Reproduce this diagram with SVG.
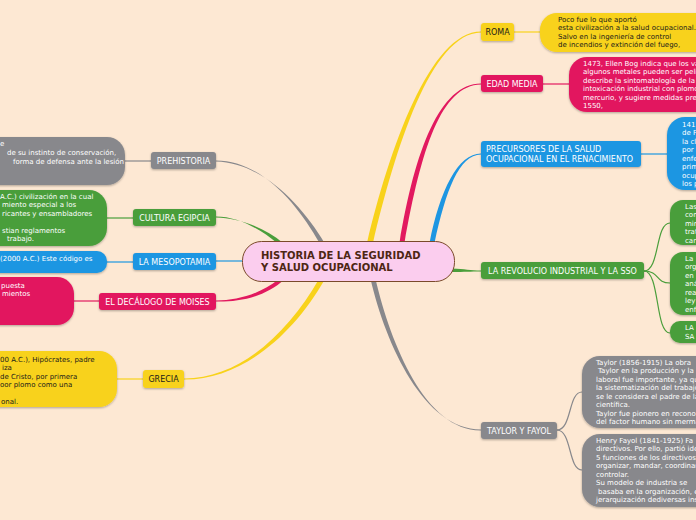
<svg xmlns="http://www.w3.org/2000/svg" width="696" height="520" viewBox="0 0 696 520">
<defs>
<filter id="sh" x="-10%" y="-20%" width="120%" height="160%">
<feDropShadow dx="0" dy="1" stdDeviation="0.8" flood-color="#000" flood-opacity="0.3"/>
</filter>
<style>
.n{font-family:"DejaVu Sans",Verdana,sans-serif;font-size:8px;text-anchor:middle}
.d{font-family:"DejaVu Sans",Verdana,sans-serif;font-size:7px}
.w{fill:#ffffff}
.k{fill:#1a1a1a}
.gy{fill:#88888c}
.gn{fill:#4a9e3b}
.bl{fill:#1d96e2}
.rd{fill:#e2195f}
.yl{fill:#f8d21b}
.sgy{stroke:#88888c}
.sgn{stroke:#4a9e3b}
.sbl{stroke:#1d96e2}
.srd{stroke:#e2195f}
.syl{stroke:#f8d21b}
.ln{fill:none;stroke-width:1.2}
</style>
</defs>
<rect width="696" height="520" fill="#fde8d3"/>

<g id="connectors">
<path class="gy" d="M319.5,243 C298,205 262,160.5 216,160.5 L216,161.5 C262,162.5 302,205 324.5,243 Z"/>
<path class="gn" d="M277,243 C260,229 238,216.5 216,216.5 L216,217.5 C238,218 264,227 283,243 Z"/>
<path class="ln sbl" stroke-width="1.5" d="M244,261 L216,261"/>
<path class="rd" d="M279,279 C260,294 238,300.5 216,300.5 L216,301.5 C238,302 264,298 285,279 Z"/>
<path class="yl" d="M319,279 C288,333 240,378.5 184,378.5 L184,379.5 C240,380 292,337 325,279 Z"/>
<path class="yl" d="M367,243 C389,150 430,31.5 481,31.5 L481,32.5 C431,33 395,150 373,243 Z"/>
<path class="rd" d="M399.5,243 C415,150 440,83.5 481,83.5 L481,84.5 C441,85 421,150 404.5,243 Z"/>
<path class="bl" d="M429.5,243 C440,190 458,153.5 481,153.5 L481,154.5 C459,155 446,190 434.5,243 Z"/>
<path class="gn" d="M452,268.5 C465,269 470,270.5 481,270.5 L481,271.5 C470,271.5 465,272 452,272 Z"/>
<path class="gy" d="M370.5,279 C386,345 424,429.5 481,429.5 L481,430.5 C426,431 391,345 375.5,279 Z"/>

<path class="ln sgy" d="M125,161 L151,161"/>
<path class="ln sgn" d="M107,218 L133,218"/>
<path class="ln sbl" d="M107,262 L133,262"/>
<path class="ln srd" d="M74,301 L99,301"/>
<path class="ln syl" d="M117,379 L143,379"/>
<path class="ln syl" d="M514,32 L540,32"/>
<path class="ln srd" d="M543,84 L569,84"/>
<path class="ln sbl" d="M641,154 L667,154"/>
<path class="ln sgn" d="M644,271 C660,271 655,223 670,223"/>
<path class="ln sgn" d="M644,271 C660,271 655,283 670,283"/>
<path class="ln sgn" d="M644,271 C660,271 655,333 670,333"/>
<path class="ln sgy" d="M557,430 C572,430 568,392 582,392"/>
<path class="ln sgy" d="M557,430 C572,430 568,470 582,470"/>
</g>

<g id="center">
<rect x="242.5" y="241.5" width="212" height="40" rx="19" fill="#fbcdee" stroke="#7a4a2a" stroke-width="1"/>
<text x="261" y="259" font-family="DejaVu Sans,Verdana,sans-serif" font-size="10" font-weight="bold" fill="#4d2613">HISTORIA DE LA SEGURIDAD</text>
<text x="261" y="271" font-family="DejaVu Sans,Verdana,sans-serif" font-size="10" font-weight="bold" fill="#4d2613">Y SALUD OCUPACIONAL</text>
</g>

<g id="prehistoria">
<rect class="gy" x="151" y="152" width="65" height="17" rx="3" filter="url(#sh)"/>
<text class="n w" x="183.5" y="163.8">PREHISTORIA</text>
</g>
<g id="prehistoria-detail">
<rect class="gy" x="-40" y="137" width="165" height="48" rx="18" filter="url(#sh)"/>
<text class="d w" x="0" y="145.5">e</text>
<text class="d w" x="7" y="155">de su instinto de conservación,</text>
<text class="d w" x="13" y="163.5">forma de defensa ante la lesión</text>
</g>

<g id="egipcia">
<rect class="gn" x="133" y="209" width="83" height="17" rx="3" filter="url(#sh)"/>
<text class="n w" x="174.5" y="220.8">CULTURA EGIPCIA</text>
</g>
<g id="egipcia-detail">
<rect class="gn" x="-40" y="190" width="147" height="56" rx="18" filter="url(#sh)"/>
<text class="d w" x="0" y="198.5">A.C.) civilización en la cual</text>
<text class="d w" x="2" y="207">miento especial a los</text>
<text class="d w" x="2" y="215.5">ricantes y ensambladores</text>
<text class="d w" x="2" y="232.5">stian reglamentos</text>
<text class="d w" x="7" y="241">trabajo.</text>
</g>

<g id="mesopotamia">
<rect class="bl" x="133" y="253" width="83" height="17" rx="3" filter="url(#sh)"/>
<text class="n w" x="174.5" y="264.8">LA MESOPOTAMIA</text>
</g>
<g id="mesopotamia-detail">
<rect class="bl" x="-40" y="251" width="147" height="22" rx="10" filter="url(#sh)"/>
<text class="d w" x="0" y="260.5">(2000 A.C.) Este código es</text>
</g>

<g id="decalogo">
<rect class="rd" x="99" y="293" width="117" height="17" rx="3" filter="url(#sh)"/>
<text class="n w" x="157.5" y="304.8">EL DECÁLOGO DE MOISES</text>
</g>
<g id="decalogo-detail">
<rect class="rd" x="-40" y="277" width="114" height="48" rx="17" filter="url(#sh)"/>
<text class="d w" x="1" y="287.5">puesta</text>
<text class="d w" x="2" y="296">mientos</text>
</g>

<g id="grecia">
<rect class="yl" x="143" y="370" width="41" height="18" rx="3" filter="url(#sh)"/>
<text class="n k" x="163.5" y="382.3">GRECIA</text>
</g>
<g id="grecia-detail">
<rect class="yl" x="-40" y="351" width="157" height="56" rx="18" filter="url(#sh)"/>
<text class="d k" x="0" y="361.5">00 A.C.), Hipócrates, padre</text>
<text class="d k" x="2" y="370">iza</text>
<text class="d k" x="0" y="378.5">de Cristo, por primera</text>
<text class="d k" x="0" y="387">oor plomo como una</text>
<text class="d k" x="1" y="404">onal.</text>
</g>

<g id="roma">
<rect class="yl" x="481" y="23" width="33" height="18" rx="3" filter="url(#sh)"/>
<text class="n k" x="497.5" y="35.3">ROMA</text>
</g>
<g id="roma-detail">
<rect class="yl" x="540" y="13" width="200" height="39" rx="17" filter="url(#sh)"/>
<text class="d k" x="558" y="21.5">Poco fue lo que aportó</text>
<text class="d k" x="558" y="30">esta civilización a la salud ocupacional.</text>
<text class="d k" x="558" y="38.5">Salvo en la ingeniería de control</text>
<text class="d k" x="558" y="47">de incendios y extinción del fuego,</text>
</g>

<g id="edad-media">
<rect class="rd" x="481" y="75" width="62" height="17" rx="3" filter="url(#sh)"/>
<text class="n w" x="512" y="86.8">EDAD MEDIA</text>
</g>
<g id="edad-media-detail">
<rect class="rd" x="569" y="57" width="200" height="55" rx="18" filter="url(#sh)"/>
<text class="d w" x="583" y="65.5">1473, Ellen Bog indica que los va</text>
<text class="d w" x="583" y="74">algunos metales pueden ser peli</text>
<text class="d w" x="583" y="82.5">describe la sintomatología de la</text>
<text class="d w" x="583" y="91">intoxicación industrial con plomo</text>
<text class="d w" x="583" y="99.5">mercurio, y sugiere medidas pre</text>
<text class="d w" x="583" y="108">1550,</text>
</g>

<g id="precursores">
<rect class="bl" x="481" y="141" width="160" height="26" rx="3" filter="url(#sh)"/>
<text class="n w" x="486" y="152" text-anchor="start" style="text-anchor:start">PRECURSORES DE LA SALUD</text>
<text class="n w" x="486" y="162" text-anchor="start" style="text-anchor:start">OCUPACIONAL EN EL RENACIMIENTO</text>
</g>
<g id="precursores-detail">
<rect class="bl" x="667" y="117" width="100" height="73" rx="18" filter="url(#sh)"/>
<text class="d w" x="682" y="126.5">1411</text>
<text class="d w" x="682" y="135">de F</text>
<text class="d w" x="682" y="143.5">la cl</text>
<text class="d w" x="682" y="152">por l</text>
<text class="d w" x="682" y="160.5">enfe</text>
<text class="d w" x="682" y="169">prim</text>
<text class="d w" x="682" y="177.5">ocup</text>
<text class="d w" x="682" y="186">los p</text>
</g>

<g id="revolucion">
<rect class="gn" x="481" y="262" width="163" height="17" rx="3" filter="url(#sh)"/>
<text class="n w" x="562.5" y="273.8">LA REVOLUCIO INDUSTRIAL Y LA SSO</text>
</g>
<g id="revolucion-detail-1">
<rect class="gn" x="670" y="200" width="60" height="45" rx="13" filter="url(#sh)"/>
<text class="d w" x="685" y="208.5">Las</text>
<text class="d w" x="685" y="217">com</text>
<text class="d w" x="685" y="225.5">min</text>
<text class="d w" x="685" y="234">trat</text>
<text class="d w" x="685" y="242.5">car</text>
</g>
<g id="revolucion-detail-2">
<rect class="gn" x="670" y="252" width="60" height="63" rx="13" filter="url(#sh)"/>
<text class="d w" x="685" y="260.5">La</text>
<text class="d w" x="685" y="269">org</text>
<text class="d w" x="685" y="277.5">en</text>
<text class="d w" x="685" y="286">aná</text>
<text class="d w" x="685" y="294.5">rea</text>
<text class="d w" x="685" y="303">ley</text>
<text class="d w" x="685" y="311.5">enf</text>
</g>
<g id="revolucion-detail-3">
<rect class="gn" x="670" y="321" width="60" height="22" rx="10" filter="url(#sh)"/>
<text class="d w" x="685" y="330">LA</text>
<text class="d w" x="685" y="338.5">SA</text>
</g>

<g id="taylor">
<rect class="gy" x="481" y="422" width="76" height="17" rx="3" filter="url(#sh)"/>
<text class="n w" x="519" y="433.8">TAYLOR Y FAYOL</text>
</g>
<g id="taylor-detail-1">
<rect class="gy" x="582" y="356" width="200" height="72" rx="18" filter="url(#sh)"/>
<text class="d w" x="596" y="364.5">Taylor (1856-1915) La obra</text>
<text class="d w" x="598" y="373">Taylor en la producción y la</text>
<text class="d w" x="596" y="381.5">laboral fue importante, ya qu</text>
<text class="d w" x="596" y="390">la sistematización del trabajo</text>
<text class="d w" x="596" y="398.5">se le considera el padre de la</text>
<text class="d w" x="596" y="407">científica.</text>
<text class="d w" x="596" y="415.5">Taylor fue pionero en recono</text>
<text class="d w" x="596" y="424">del factor humano sin merma</text>
</g>
<g id="taylor-detail-2">
<rect class="gy" x="582" y="434" width="200" height="73" rx="18" filter="url(#sh)"/>
<text class="d w" x="596" y="442.5">Henry Fayol (1841-1925)  Fa</text>
<text class="d w" x="596" y="451">directivos. Por ello, partió ide</text>
<text class="d w" x="596" y="459.5">5 funciones de los directivos</text>
<text class="d w" x="596" y="468">organizar, mandar, coordinar</text>
<text class="d w" x="596" y="476.5">controlar.</text>
<text class="d w" x="596" y="485">Su modelo de industria se</text>
<text class="d w" x="598" y="493.5">basaba en la organización, e</text>
<text class="d w" x="596" y="502">jerarquización dediversas ins</text>
</g>
</svg>
